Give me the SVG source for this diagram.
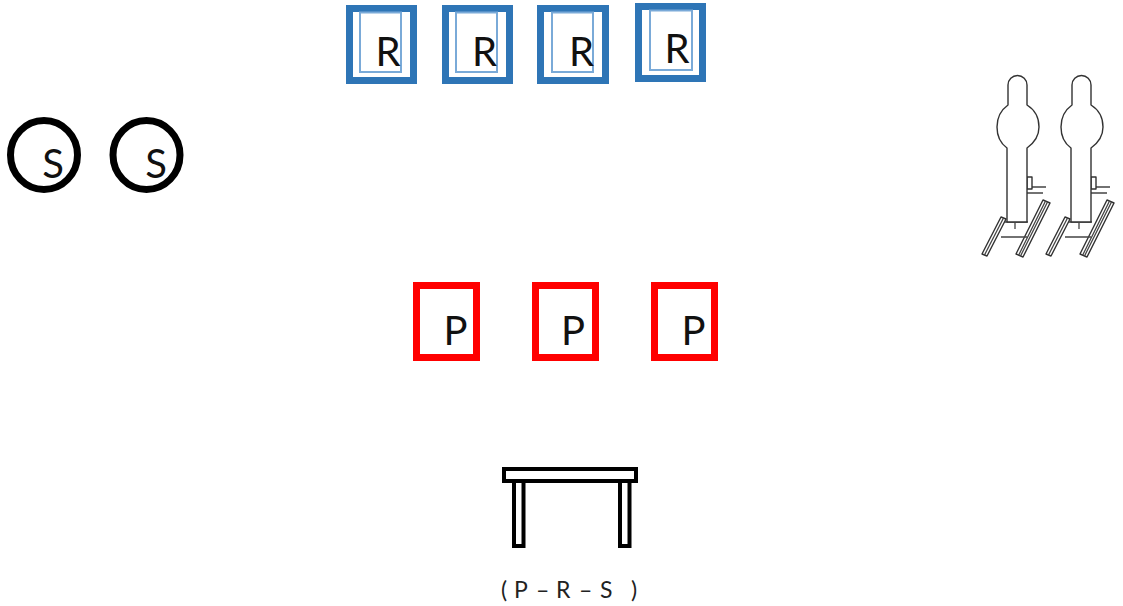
<svg xmlns="http://www.w3.org/2000/svg" xmlns:xlink="http://www.w3.org/1999/xlink" width="1123" height="606" viewBox="0 0 1123 606">
<style>
.lbl{font-family:Lato,"Open Sans","Liberation Sans",sans-serif;font-size:40px;fill:#111;text-anchor:middle}
.rbox{fill:#fff;stroke:#2e75b6;stroke-width:7}
.rin{fill:none;stroke:#7aaad8;stroke-width:2}
.pbox{fill:#fff;stroke:#ff0000;stroke-width:7}
.sc{fill:#fff;stroke:#000;stroke-width:7}
.tbl{fill:#fff;stroke:#000;stroke-width:4}
.tg{fill:#fff;stroke:#333;stroke-width:1.4;stroke-linejoin:round}
.tl{fill:none;stroke:#444;stroke-width:1.3}
.cap{font-family:Lato,"Open Sans","Liberation Sans",sans-serif;font-size:23px;fill:#222}
</style>
<defs>
<g id="target">
<path class="tl" d="M1027,187 H1046 M1027,193 H1043"/>
<path class="tg" d="M1027,177 h5 v12 h-5 z"/>
<path class="tg" d="M1043,200 L1050,203 L1023,257 L1016,254 Z"/>
<path class="tl" d="M1045.5,201 L1018.5,255.5 M1047.5,202 L1020.5,256"/>
<path class="tl" d="M1002,222 H1028 M1001,237 H1027"/>
<path class="tg" d="M1001,217 L1006,219 L987,256 L982,254 Z"/>
<path class="tl" d="M1003.5,218 L984.5,255"/>
<path class="tg" d="M1008,105 V85 A9.5,9.5 0 0 1 1027,85 V105 C1035,110 1039,118 1039,127 C1039,137 1034,143 1027,148 V222 H1007 V148 C1000,143 997,137 997,127 C997,118 1001,110 1008,105 Z"/>
<path class="tl" d="M1015,222 v7"/>
</g>
</defs>
<g id="r-boxes">
<g id="r1"><rect class="rbox" x="349.5" y="8.5" width="64" height="72"/><rect class="rin" x="360" y="12.5" width="41" height="59.5"/><text class="lbl" x="388" y="66">R</text></g>
<g id="r2"><rect class="rbox" x="445.5" y="8.5" width="64" height="72"/><rect class="rin" x="456" y="12.5" width="41" height="59.5"/><text class="lbl" x="484.5" y="66">R</text></g>
<g id="r3"><rect class="rbox" x="540.5" y="8.5" width="65" height="72"/><rect class="rin" x="552" y="12.5" width="41" height="59.5"/><text class="lbl" x="581.5" y="66">R</text></g>
<g id="r4"><rect class="rbox" x="638.5" y="6.5" width="64" height="72"/><rect class="rin" x="650" y="10.5" width="42" height="59.5"/><text class="lbl" x="677" y="63">R</text></g>
</g>
<g id="s-circles">
<g id="s1"><ellipse class="sc" cx="44" cy="155" rx="33.5" ry="34.5"/><text class="lbl" x="53" y="178">S</text></g>
<g id="s2"><ellipse class="sc" cx="146.5" cy="155" rx="33.5" ry="34.5"/><text class="lbl" x="156" y="178">S</text></g>
</g>
<g id="targets">
<use xlink:href="#target" href="#target"/>
<use xlink:href="#target" href="#target" x="64"/>
</g>
<g id="p-boxes">
<g id="p1"><rect class="pbox" x="416.5" y="285.5" width="60" height="72"/><text class="lbl" x="455.5" y="345">P</text></g>
<g id="p2"><rect class="pbox" x="535.5" y="285.5" width="60" height="72"/><text class="lbl" x="573" y="345">P</text></g>
<g id="p3"><rect class="pbox" x="654.5" y="285.5" width="60" height="72"/><text class="lbl" x="693.5" y="345">P</text></g>
</g>
<g id="table">
<rect class="tbl" x="514" y="481" width="9.5" height="65"/>
<rect class="tbl" x="620" y="481" width="9.5" height="65"/>
<rect class="tbl" x="504" y="469" width="132" height="12"/>
<text class="cap" x="501 508 514 528 536 551 556 570 579 594 600 614 631" y="598">( P – R – S )</text>
</g>
</svg>
